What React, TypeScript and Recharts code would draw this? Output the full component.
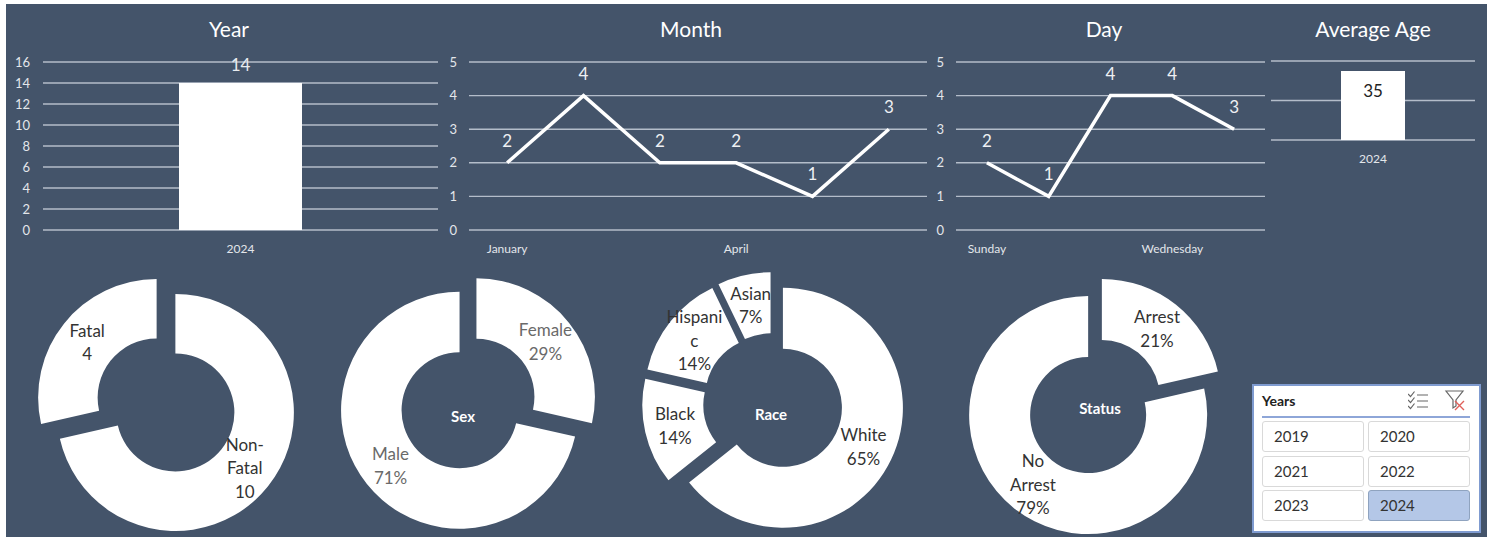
import React from "react";
import { BarChart, Bar, LineChart, Line, PieChart, Pie, Sector, XAxis, YAxis, CartesianGrid, LabelList } from "recharts";

const yearCategories = ["2024"];
const yearValues = [14];
const yearTicks = [0, 2, 4, 6, 8, 10, 12, 14, 16];
const monthCategories = ["January", "February", "March", "April", "May", "June"];
const monthValues = [2, 4, 2, 2, 1, 3];
const dayCategories = ["Sunday", "Monday", "Tuesday", "Wednesday", "Thursday"];
const dayValues = [2, 1, 4, 4, 3];
const countTicks = [0, 1, 2, 3, 4, 5];
const ageValues = [35];
const ageTicks = [0, 20, 40];

const fatalValues = [10, 4];
const fatalLabels = [["Non-", "Fatal", "10"], ["Fatal", "4"]];
const sexValues = [4, 10];
const sexLabels = [["Female", "29%"], ["Male", "71%"]];
const raceValues = [9, 2, 2, 1];
const raceLabels = [["White", "65%"], ["Black", "14%"], ["Hispani", "c", "14%"], ["Asian", "7%"]];
const statusValues = [3, 11];
const statusLabels = [["Arrest", "21%"], ["No", "Arrest", "79%"]];
const sliceYears = ["2019", "2020", "2021", "2022", "2023", "2024"];
const selectedYear = "2024";

const FONT = "Lato, sans-serif";
const PANEL = "#44546a";
const GRID = "#b4bdca";
const TICK = "#e3e6ea";

const toRows = (cats: string[], vals: number[]) => cats.map((name, i) => ({ name, value: vals[i] }));

function Abs({ x, y, size, color = "#fff", weight = 400, children }: any) {
  return (
    <div style={{ position: "absolute", left: x, top: y, transform: "translate(-50%,-50%)", fontFamily: FONT, fontSize: size, color, fontWeight: weight, whiteSpace: "nowrap", lineHeight: 1 }}>
      {children}
    </div>
  );
}

const box = (left: number, top: number): React.CSSProperties => ({ position: "absolute", left, top });
const yTick = { fill: TICK, fontSize: 13, fontFamily: FONT };
const xTick = { fill: TICK, fontSize: 12, fontFamily: FONT };

function LineBlock({ left, width, rows }: { left: number; width: number; rows: any[] }) {
  return (
    <div style={box(left, 50)}>
      <LineChart width={width} height={210} data={rows} margin={{ top: 12, right: 0, bottom: 0, left: 0 }}>
        <CartesianGrid vertical={false} stroke={GRID} strokeWidth={1.4} syncWithTicks />
        <XAxis dataKey="name" scale="band" interval={2} axisLine={false} tickLine={false} tick={xTick} height={30} tickMargin={8} />
        <YAxis domain={[0, 5]} ticks={countTicks} tickCount={6} interval={0} width={23} axisLine={false} tickLine={false} tick={yTick} tickMargin={6} />
        <Line dataKey="value" stroke="#fff" strokeWidth={3.5} dot={false} isAnimationActive={false}>
          <LabelList dataKey="value" position="top" offset={16} fill="#eef0f3" fontSize={17} fontFamily={FONT} />
        </Line>
      </LineChart>
    </div>
  );
}

function Donut({ values, labels, cx, cy, inner, outer, burst, ink }: any) {
  const left = cx - 145;
  const top = 262;
  const rows = values.map((value: number, i: number) => ({ name: labels[i].join(" "), value, lines: labels[i] }));
  const dir = (p: any) => {
    const mid = ((p.startAngle + p.endAngle) / 2) * (Math.PI / 180);
    return { dx: Math.cos(mid), dy: -Math.sin(mid) };
  };
  return (
    <div style={box(left, top)}>
      <PieChart width={290} height={275} margin={{ top: 0, right: 0, bottom: 0, left: 0 }}>
        <Pie
          data={rows}
          dataKey="value"
          nameKey="name"
          cx={145}
          cy={cy - top}
          innerRadius={inner}
          outerRadius={outer}
          startAngle={90}
          endAngle={-270}
          stroke="none"
          fill="#fff"
          isAnimationActive={false}
          labelLine={false}
          shape={(p: any) => {
            const { dx, dy } = dir(p);
            return <Sector {...p} cx={p.cx + dx * burst} cy={p.cy + dy * burst} fill="#fff" stroke="none" />;
          }}
          label={(p: any) => {
            const { dx, dy } = dir(p);
            const mid = (inner + outer) / 2 + burst;
            const x = p.cx + dx * mid;
            const y = p.cy + dy * mid;
            const lines: string[] = p.payload?.lines ?? p.lines;
            const lh = 23.5;
            return (
              <text x={x} y={y} textAnchor="middle" fill={ink} fontFamily={FONT} fontSize={17}>
                {lines.map((t, i) => (
                  <tspan key={i} x={x} y={y + (i - (lines.length - 1) / 2) * lh} dominantBaseline="central">{t}</tspan>
                ))}
              </text>
            );
          }}
        />
      </PieChart>
    </div>
  );
}

function Slicer() {
  const cols = [1262, 1368];
  const rowsY = [421, 456, 490];
  return (
    <div style={{ position: "absolute", left: 1252, top: 384, width: 229, height: 149, background: "#fff", boxSizing: "border-box", border: "2px solid #7f9bd0" }}>
      <div style={{ position: "absolute", left: 8, top: 6, fontFamily: FONT, fontWeight: 700, fontSize: 14, color: "#222" }}>Years</div>
      <svg style={{ position: "absolute", left: 154, top: 2 }} width={60} height={24} viewBox="0 0 60 24">
        <g fill="none" stroke="#666" strokeWidth={1.2}>
          <path d="M0 6 l2.5 2.5 l4 -5 M0 12 l2.5 2.5 l4 -5 M0 18 l2.5 2.5 l4 -5" />
          <path d="M9 7 h11 M9 13 h11 M9 19 h11" />
          <path d="M38 3 h17 l-7 9 v6 l-3 2 v-8 z" />
        </g>
        <path d="M47 13 l9 9 M56 13 l-9 9" stroke="#e0605a" strokeWidth={1.4} />
      </svg>
      <div style={{ position: "absolute", left: 8, top: 30, width: 208, height: 1.5, background: "#8ea6d8" }} />
      {sliceYears.map((y, i) => {
        const on = y === selectedYear;
        return (
          <div key={y} style={{ position: "absolute", left: cols[i % 2] - 1254, top: rowsY[Math.floor(i / 2)] - 386, width: 102, height: 31, boxSizing: "border-box", borderRadius: 3, border: on ? "1px solid #8fa3bf" : "1px solid #d9d9d9", background: on ? "#b4c7e7" : "#fff", fontFamily: FONT, fontSize: 15, color: "#333", lineHeight: "29px", paddingLeft: 11 }}>
            {y}
          </div>
        );
      })}
    </div>
  );
}

export default function App() {
  return (
    <div style={{ position: "absolute", left: 0, top: 0, width: 1493, height: 537, background: "#fff", overflow: "hidden" }}>
      <div style={{ position: "absolute", left: 6, top: 4, width: 1481, height: 533, background: PANEL }} />

      <Abs x={229} y={28} size={21}>Year</Abs>
      <Abs x={691} y={28} size={21}>Month</Abs>
      <Abs x={1104} y={28} size={21}>Day</Abs>
      <Abs x={1373} y={28} size={21}>Average Age</Abs>

      <div style={box(5, 50)}>
        <BarChart width={433} height={210} data={toRows(yearCategories, yearValues)} margin={{ top: 12, right: 0, bottom: 0, left: 0 }}>
          <CartesianGrid vertical={false} stroke={GRID} strokeWidth={1.4} syncWithTicks />
          <XAxis dataKey="name" axisLine={false} tickLine={false} tick={xTick} height={30} tickMargin={8} />
          <YAxis domain={[0, 16]} ticks={yearTicks} tickCount={9} interval={0} width={38} axisLine={false} tickLine={false} tick={yTick} tickMargin={7} />
          <Bar dataKey="value" fill="#fff" barSize={123} isAnimationActive={false}>
            <LabelList dataKey="value" position="top" offset={12} fill="#e8ebef" fontSize={17} fontFamily={FONT} />
          </Bar>
        </BarChart>
      </div>

      <LineBlock left={446} width={481} rows={toRows(monthCategories, monthValues)} />
      <LineBlock left={933} width={332} rows={toRows(dayCategories, dayValues)} />

      <div style={box(1271, 50)}>
        <BarChart width={204} height={125} data={toRows(yearCategories, ageValues)} margin={{ top: 11, right: 0, bottom: 0, left: 0 }}>
          <CartesianGrid vertical={false} stroke={GRID} strokeWidth={1.4} syncWithTicks />
          <XAxis dataKey="name" axisLine={false} tickLine={false} tick={xTick} height={35} tickMargin={8} />
          <YAxis domain={[0, 40]} ticks={ageTicks} tickCount={3} interval={0} hide />
          <Bar dataKey="value" fill="#fff" barSize={64} isAnimationActive={false}>
            <LabelList dataKey="value" position="insideTop" offset={14} fill="#222" fontSize={17} fontFamily={FONT} />
          </Bar>
        </BarChart>
      </div>

      <Donut values={fatalValues} labels={fatalLabels} cx={166} cy={405} inner={59} outer={118.5} burst={12} ink="#333" />
      <Donut values={sexValues} labels={sexLabels} cx={468} cy={403.5} inner={58} outer={118.5} burst={10.8} ink="#6a6a6a" />
      <Donut values={raceValues} labels={raceLabels} cx={773} cy={403} inner={59} outer={120} burst={11} ink="#333" />
      <Donut values={statusValues} labels={statusLabels} cx={1094.5} cy={406.5} inner={58} outer={119} burst={11} ink="#333" />

      <Abs x={463} y={416} size={15} weight={700}>Sex</Abs>
      <Abs x={771} y={414} size={15} weight={700}>Race</Abs>
      <Abs x={1100} y={408} size={15} weight={700}>Status</Abs>

      <Slicer />
    </div>
  );
}
